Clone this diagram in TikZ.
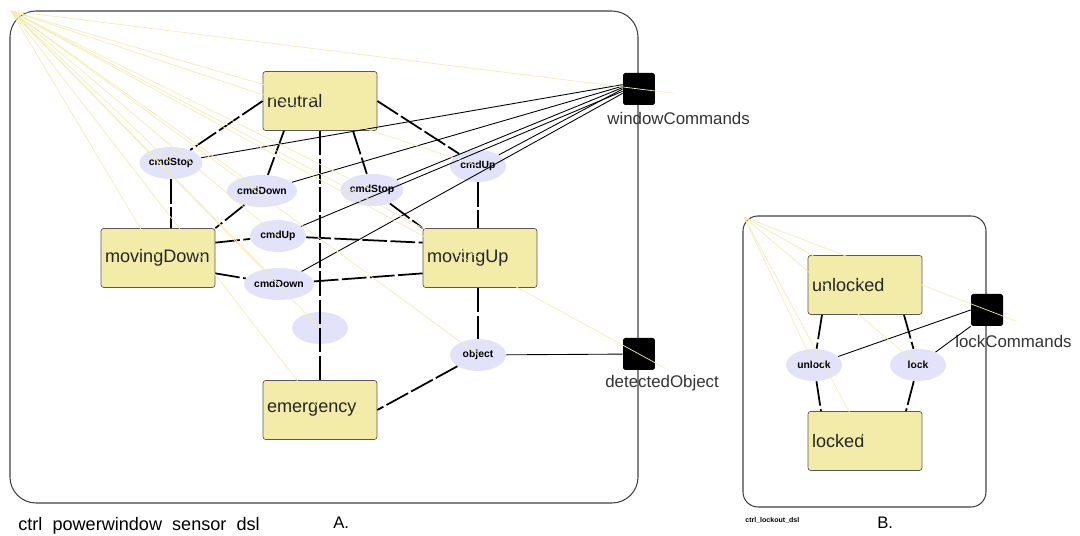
\documentclass[tikz,border=0pt]{standalone}
\usepackage{fontspec}
\setmainfont{Liberation Sans}
\usetikzlibrary{shapes.geometric}
\definecolor{statefill}{RGB}{243,235,168}
\definecolor{eventfill}{RGB}{226,226,250}
\definecolor{tieline}{RGB}{243,236,180}
\begin{document}
\begin{tikzpicture}[x=0.02cm,y=-0.02cm]
		    \tikzset{
   			state/.style={draw=black!65, fill=statefill, rounded corners=1.5pt, minimum width=2.28cm, minimum height=1.18cm, text width=2.12cm, inner xsep=0.08cm, align=left, text=black!85, font=\fontsize{10.3}{12}\selectfont},
    		event/.style={ellipse, fill=eventfill, minimum width=1.12cm, minimum height=0.64cm, inner sep=0pt, font=\fontsize{5.9}{7}\selectfont\bfseries},
    		port/.style={fill=black, rounded corners=1pt, minimum size=0.64cm, inner sep=0pt},
    		portlabel/.style={anchor=west, inner sep=0pt, text=black!80, font=\fontsize{9.6}{11}\selectfont},
    		frame/.style={draw=black!75, line width=0.6pt},
    		trans/.style={line width=1pt, dash pattern=on 14pt off 2pt},
    		wire/.style={line width=0.5pt},
    		tie/.style={draw=tieline, line width=0.4pt}
		    }
            \useasboundingbox (0,0) rectangle (1080,536);

            % containers
            \draw[frame, rounded corners=0.52cm] (10,11) rectangle (638,503);
            \draw[frame, rounded corners=0.3cm] (743,216) rectangle (986,507);
            \coordinate (cornerA) at (11,11);
            \coordinate (cornerB) at (744,217);

            % power window states
            \draw node[state] (neutral) at (320,101) {neutral};
            \draw node[state] (movingDown) at (158,258) {movingDown};
            \draw node[state] (movingUp) at (480,258) {movingUp};
            \draw node[state] (emergency) at (320,410) {emergency};

            \draw node[event] (stopL) at (171,163) {cmdStop};
            \draw node[event] (downL) at (262,191) {cmdDown};
            \draw node[event] (stopR) at (372,190) {cmdStop};
            \draw node[event] (upR) at (478,166) {cmdUp};
            \draw node[event] (upM) at (278,236) {cmdUp};
            \draw node[event] (downM) at (279,284) {cmdDown};
            \draw node[event] (silent) at (320,328) {};
            \draw node[event] (object) at (478,355) {object};

            \draw node[port] (wc) at (639,89) {};
            \draw node[port] (dObj) at (639,354) {};
            \draw node[portlabel] (wcText) at (607,118) {windowCommands};
            \draw node[portlabel] (dObjText) at (605,383) {detectedObject};

            % lockout states
            \draw node[state] (unlocked) at (865,285) {unlocked};
            \draw node[state] (locked) at (865,441) {locked};
            \draw node[event] (unlock) at (814,365) {unlock};
            \draw node[event] (lock) at (918,365) {lock};
            \draw node[port] (lc) at (987,310) {};
            \draw node[portlabel] (lcText) at (955,341) {lockCommands};

            \draw node[anchor=base west, inner sep=0pt, font=\fontsize{10.3}{12}\selectfont] (nameA) at (18,531) {ctrl\ \ powerwindow\ \ sensor\ \ dsl};
            \draw node[anchor=base west, inner sep=0pt, font=\fontsize{9.5}{12}\selectfont] (tagA) at (333,529) {A.};
            \draw node[anchor=base west, inner sep=0pt, font=\fontsize{4}{5}\selectfont\bfseries] (nameB) at (745,523) {ctrl\_lockout\_dsl};
            \draw node[anchor=base west, inner sep=0pt, font=\fontsize{9.5}{12}\selectfont] (tagB) at (877,529) {B.};

            % transitions
            \draw[trans] (neutral.west) -- (stopL);
            \draw[trans] ([xshift=-0.72cm]neutral.south) -- (downL);
            \draw[trans] (neutral) -- (emergency);
            \draw[trans] ([xshift=0.66cm]neutral.south) -- (stopR);
            \draw[trans] (neutral.east) -- (upR);
            \draw[trans] (stopL) -- (stopL |- movingDown.north);
            \draw[trans] (downL) -- (movingDown.north east);
            \draw[trans] (stopR) -- (movingUp.north west);
            \draw[trans] (upR) -- (upR |- movingUp.north);
            \draw[trans] (movingDown.15) -- (upM);
            \draw[trans] (upM) -- (movingUp.165);
            \draw[trans] (movingDown.-15) -- (downM);
            \draw[trans] (downM) -- (movingUp.195);
            \draw[trans] (object |- movingUp.south) -- (object);
            \draw[trans] (object) -- (emergency.east);

            \draw[trans] ([xshift=-0.86cm]unlocked.south) -- (unlock);
            \draw[trans] (unlock) -- ([xshift=-0.88cm]locked.north);
            \draw[trans] ([xshift=0.78cm]unlocked.south) -- (lock);
            \draw[trans] (lock) -- ([xshift=0.82cm]locked.north);

            % port wiring
            \foreach \ev/\a in {stopL/165,downL/170,stopR/175,upR/180,upM/188,downM/195}{
                \draw[wire] (wc.\a) -- (\ev);
            }
            \draw[wire] (object) -- (dObj);
            \draw[wire] (lc.west) -- (unlock);
            \draw[wire] (lc.south west) -- (lock);

            % containment ties
            \foreach \n in {neutral,movingDown,movingUp,emergency,stopL,downL,stopR,upR,upM,downM,silent,object}{
                \draw[tie] (cornerA) -- (\n.center);
            }
            \draw[tie, shorten >=-0.7cm] (cornerA) -- (wc.center);
            \draw[tie, shorten >=-0.6cm] (cornerA) -- (dObj.center);
            \foreach \n in {unlocked,locked,unlock,lock}{
                \draw[tie] (cornerB) -- (\n.center);
            }
            \draw[tie, shorten >=-0.6cm] (cornerB) -- (lc.center);
\end{tikzpicture}
\end{document}
